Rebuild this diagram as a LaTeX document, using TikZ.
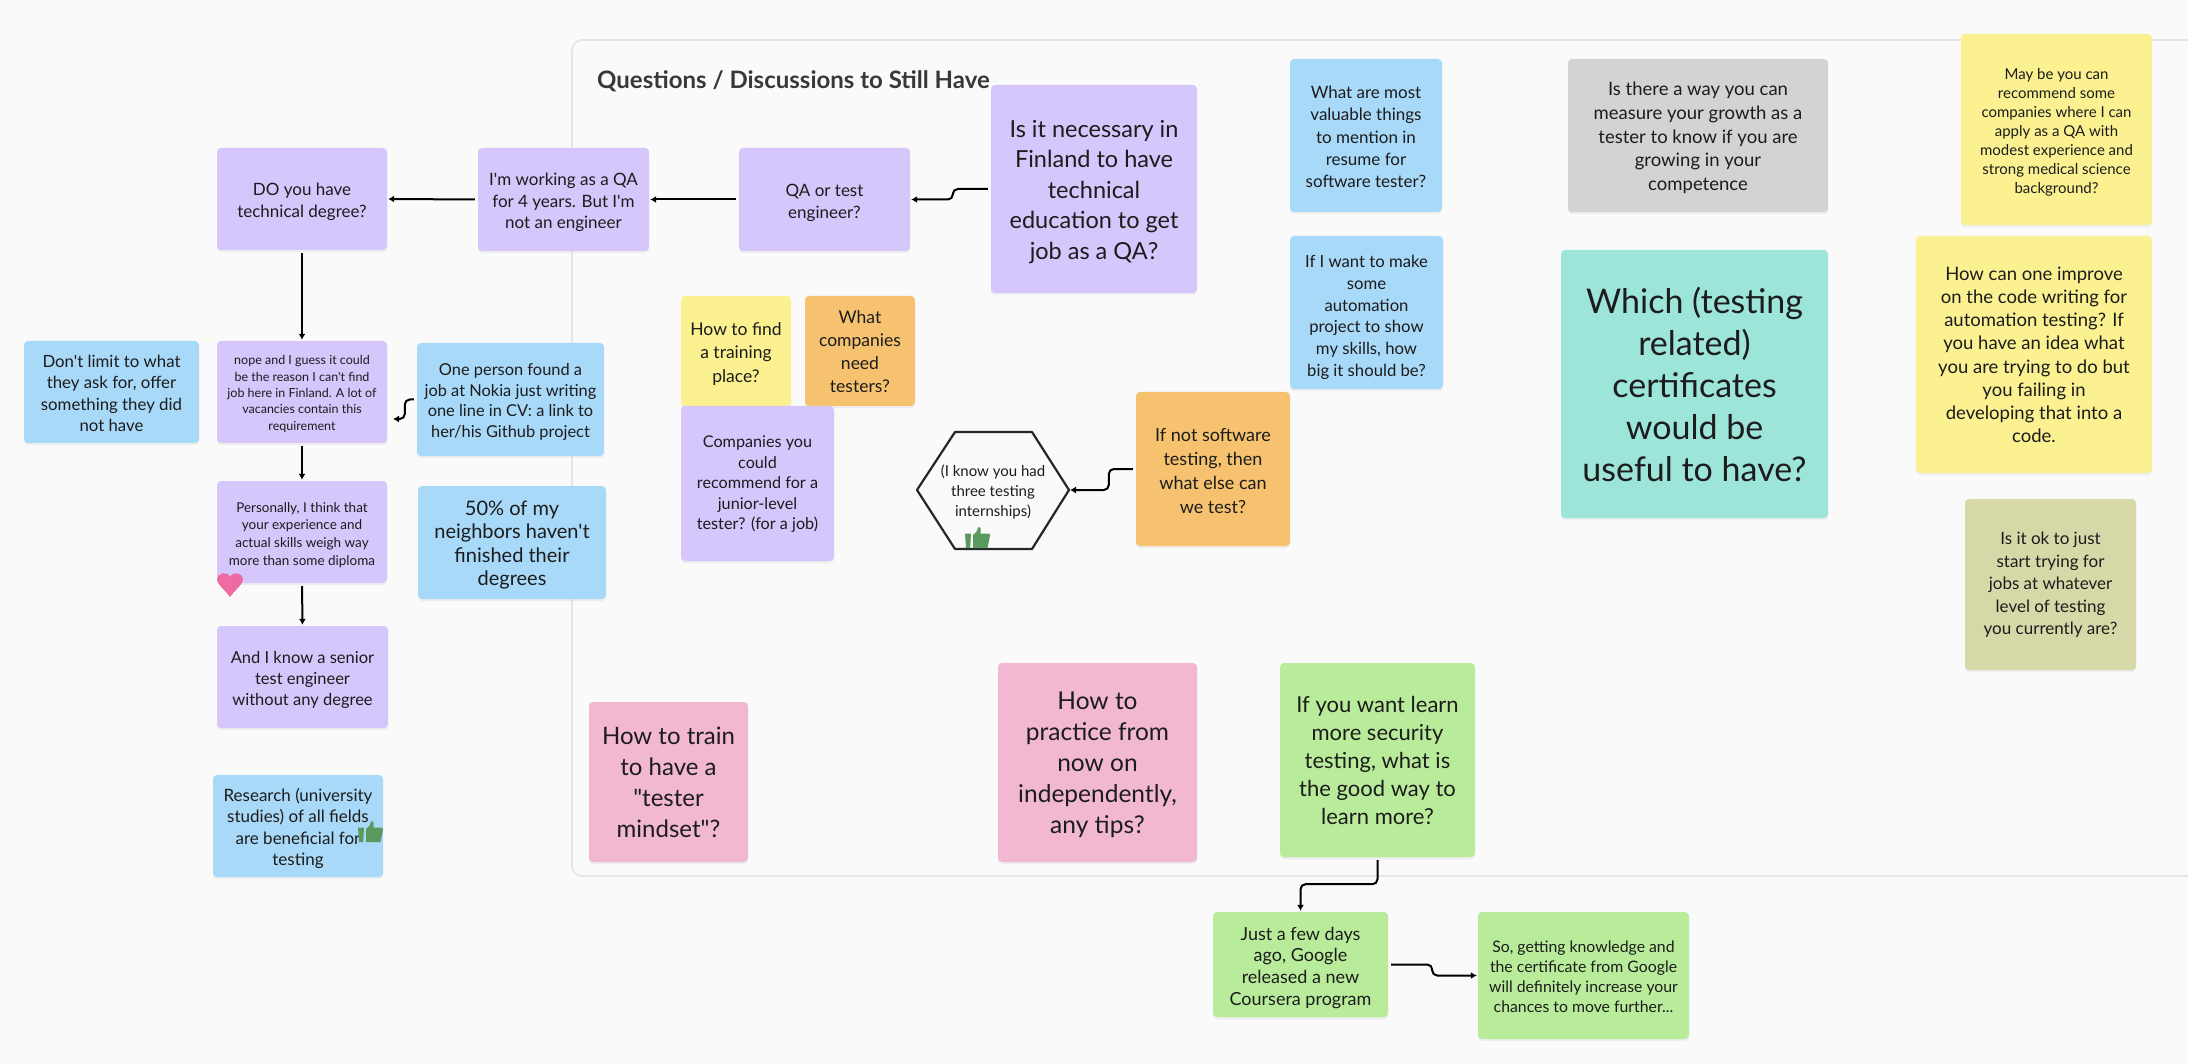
\documentclass[tikz,border=0pt]{standalone}
\usepackage{fontspec}
\setmainfont{Lato}[Ligatures=TeXOff]
\usetikzlibrary{arrows.meta,shadows,shapes.geometric}
\definecolor{bgc}{HTML}{FAFAFA}
\definecolor{framec}{HTML}{E6E6E6}
\definecolor{inkc}{HTML}{1C1C1C}
\definecolor{purplec}{HTML}{D5C6FB}
\definecolor{bluec}{HTML}{A9D9F8}
\definecolor{greyc}{HTML}{D3D3D3}
\definecolor{tealc}{HTML}{9CE5D8}
\definecolor{yellowc}{HTML}{FBF190}
\definecolor{orangec}{HTML}{F6C26F}
\definecolor{pinkc}{HTML}{F2B8D2}
\definecolor{greenc}{HTML}{B9EC9A}
\definecolor{olivec}{HTML}{D6D8A8}
\definecolor{thumbc}{HTML}{5A9A5F}
\definecolor{heartc}{HTML}{EF6AA3}
\tikzset{
  x=1pt,y=-1pt,
  sticky/.style={rectangle,rounded corners=4pt,inner sep=0pt,text=inkc,align=center,
    drop shadow={opacity=.10,shadow xshift=0pt,shadow yshift=-2pt}},
  link/.style={draw=black,line width=2pt,rounded corners=5pt,
    -{Latex[length=6pt,width=7pt]},shorten <=3pt,shorten >=1pt},
}
% \nd sets how far the text is lowered (twice the drop, in pt) in the next note
\newcommand{\notedrop}{5}
\newcommand{\nd}[1]{\renewcommand{\notedrop}{#1}}
% name, x0, y0, x1, y1, colour, font size, line pitch, text
\newcommand{\notebox}[9]{%
  \node[sticky,fill=#6,minimum width={(#4-#2)*1pt},minimum height={(#5-#3)*1pt},
        font=\fontsize{#7}{#8}\selectfont]
    (#1) at ({(#2+#4)/2},{(#3+#5)/2}) {\rule{0pt}{\dimexpr #7pt*72/100+\notedrop pt\relax}#9};}
\newcommand{\thumbat}[2]{%
  \begin{scope}[shift={(#1,#2)}]
    \fill[thumbc] (0,6.5) -- (6,6.5) -- (5.2,21) -- (1,21) -- cycle;
    \fill[thumbc] (8,8) -- (11.5,4.5) -- (13.5,0) -- (15.5,1) -- (15.5,6.5)
      -- (24.5,6.5) -- (25,9) -- (22.5,21) -- (8,21) -- cycle;
  \end{scope}}
\begin{document}
\begin{tikzpicture}
\useasboundingbox[fill=bgc] (0,0) rectangle (2188,1064);
\draw[framec,line width=1.6pt,rounded corners=10pt] (2188,40) -- (572,40) -- (572,876) -- (2188,876);
\node[anchor=west,inner sep=0pt,text=black!78,font=\fontsize{24}{28}\selectfont\bfseries] (title) at (597,81)
  {Questions / Discussions to Still Have};

\nd{5.5}\notebox{isit}{991}{85}{1197}{293}{purplec}{23.5}{30.5}{Is it necessary in\\Finland to have\\technical\\education to get\\job as a QA?}
\nd{6}\notebox{qa}{739}{148}{910}{251}{purplec}{17}{22}{QA or test\\engineer?}
\nd{6}\notebox{work}{478}{148}{649}{251}{purplec}{17}{21.5}{I'm working as a QA\\for 4 years. But I'm\\not an engineer}
\nd{6}\notebox{degree}{217}{148}{387}{250}{purplec}{17}{22}{DO you have\\technical degree?}
\nd{4}\notebox{nope}{217}{341}{387}{443}{purplec}{12.5}{16.3}{nope and I guess it could\\be the reason I can't find\\job here in Finland. A lot of\\vacancies contain this\\requirement}
\nd{3}\notebox{limit}{24}{341}{199}{443}{bluec}{16.8}{21.5}{Don't limit to what\\they ask for, offer\\something they did\\not have}
\nd{5}\notebox{one}{417}{343}{604}{456}{bluec}{16.4}{20.7}{One person found a\\job at Nokia just writing\\one line in CV: a link to\\her/his Github project}
\nd{6}\notebox{pers}{217}{481}{387}{583}{purplec}{13.5}{17.8}{Personally, I think that\\your experience and\\actual skills weigh way\\more than some diploma}
\nd{5}\notebox{fifty}{418}{486}{606}{599}{bluec}{20}{23.5}{50\% of my\\neighbors haven't\\finished their\\degrees}
\nd{6}\notebox{senior}{217}{626}{388}{728}{purplec}{16.5}{21}{And I know a senior\\test engineer\\without any degree}
\nd{6}\notebox{research}{213}{775}{383}{877}{bluec}{17}{21.3}{Research (university\\studies) of all fields\\are beneficial for\\testing}
\nd{3}\notebox{most}{1290}{59}{1442}{212}{bluec}{17}{22.4}{What are most\\valuable things\\to mention in\\resume for\\software tester?}
\nd{10}\notebox{auto}{1290}{236}{1443}{389}{bluec}{16.7}{21.8}{If I want to make\\some\\automation\\project to show\\my skills, how\\big it should be?}
\nd{5}\notebox{measure}{1568}{59}{1828}{212}{greyc}{18.5}{23.7}{Is there a way you can\\measure your growth as a\\tester to know if you are\\growing in your\\competence}
\nd{0}\notebox{which}{1561}{250}{1828}{518}{tealc}{34}{42}{Which (testing\\related)\\certificates\\would be\\useful to have?}
\nd{5}\notebox{maybe}{1961}{34}{2152}{225}{yellowc}{15}{19}{May be you can\\recommend some\\companies where I can\\apply as a QA with\\modest experience and\\strong medical science\\background?}
\nd{1}\notebox{improve}{1916}{236}{2152}{473}{yellowc}{18.5}{23.2}{How can one improve\\on the code writing for\\automation testing? If\\you have an idea what\\you are trying to do but\\you failing in\\developing that into a\\code.}
\nd{1}\notebox{okay}{1965}{499}{2136}{670}{olivec}{17}{22.4}{Is it ok to just\\start trying for\\jobs at whatever\\level of testing\\you currently are?}
\nd{6}\notebox{train}{681}{296}{791}{406}{yellowc}{17.5}{23.7}{How to find\\a training\\place?}
\nd{2}\notebox{comp}{805}{296}{915}{406}{orangec}{17.5}{23}{What\\companies\\need\\testers?}
\nd{2}\notebox{junior}{681}{406}{834}{561}{purplec}{16.2}{20.5}{Companies you\\could\\recommend for a\\junior-level\\tester? (for a job)}
\nd{4}\notebox{ifnot}{1136}{392}{1290}{546}{orangec}{18}{24.2}{If not software\\testing, then\\what else can\\we test?}
\nd{1}\notebox{mind}{589}{702}{748}{862}{pinkc}{24}{31}{How to train\\to have a\\"tester\\mindset"?}
\nd{4}\notebox{practice}{998}{663}{1197}{862}{pinkc}{24.5}{31}{How to\\practice from\\now on\\independently,\\any tips?}
\nd{1}\notebox{security}{1280}{663}{1475}{857}{greenc}{22}{28}{If you want learn\\more security\\testing, what is\\the good way to\\learn more?}
\nd{7}\notebox{few}{1213}{912}{1388}{1017}{greenc}{18}{21.7}{Just a few days\\ago, Google\\released a new\\Coursera program}
\nd{3}\notebox{cert}{1478}{912}{1689}{1039}{greenc}{15.8}{20}{So, getting knowledge and\\the certificate from Google\\will definitely increase your\\chances to move further...}

% hexagon
\coordinate (hexR) at (1069,490);
\draw[draw=black!85,line width=2.2pt,line join=round] (917,490) -- (955,432) -- (1032,432) -- (hexR) -- (1032,549) -- (955,549) -- cycle;
\node[inner sep=0pt,align=center,text=inkc,font=\fontsize{15}{20}\selectfont] (hextext) at (993,492)
  {(I know you had\\three testing\\internships)};
\thumbat{965}{527}
\thumbat{358}{821}

% heart
\fill[heartc] (230,597) .. controls (224,589) and (217,584) .. (217,579.5)
  .. controls (217,573) and (227,570.5) .. (230,577)
  .. controls (233,570.5) and (243,573) .. (243,579.5)
  .. controls (243,584) and (236,589) .. (230,597) -- cycle;

% connectors
\coordinate (nopeIn) at (392,419);
\draw[link] (isit.west) -- ++(-38,0) |- (qa.east);
\draw[link] (qa.west) -- (work.east);
\draw[link] (work.west) -- (degree.east);
\draw[link] (degree.south) -- (nope.north);
\draw[link] (nope.south) -- (pers.north);
\draw[link] (pers.south) -- (senior.north);
\draw[link] (one.west) -- ++(-12,0) |- (nopeIn);
\draw[link] (ifnot.west) -- ++(-27,0) |- (hexR);
\draw[link] (security.south) -- ++(0,27) -| (few.north);
\draw[link] (few.east) -- ++(44,0) |- (cert.west);
\end{tikzpicture}
\end{document}
